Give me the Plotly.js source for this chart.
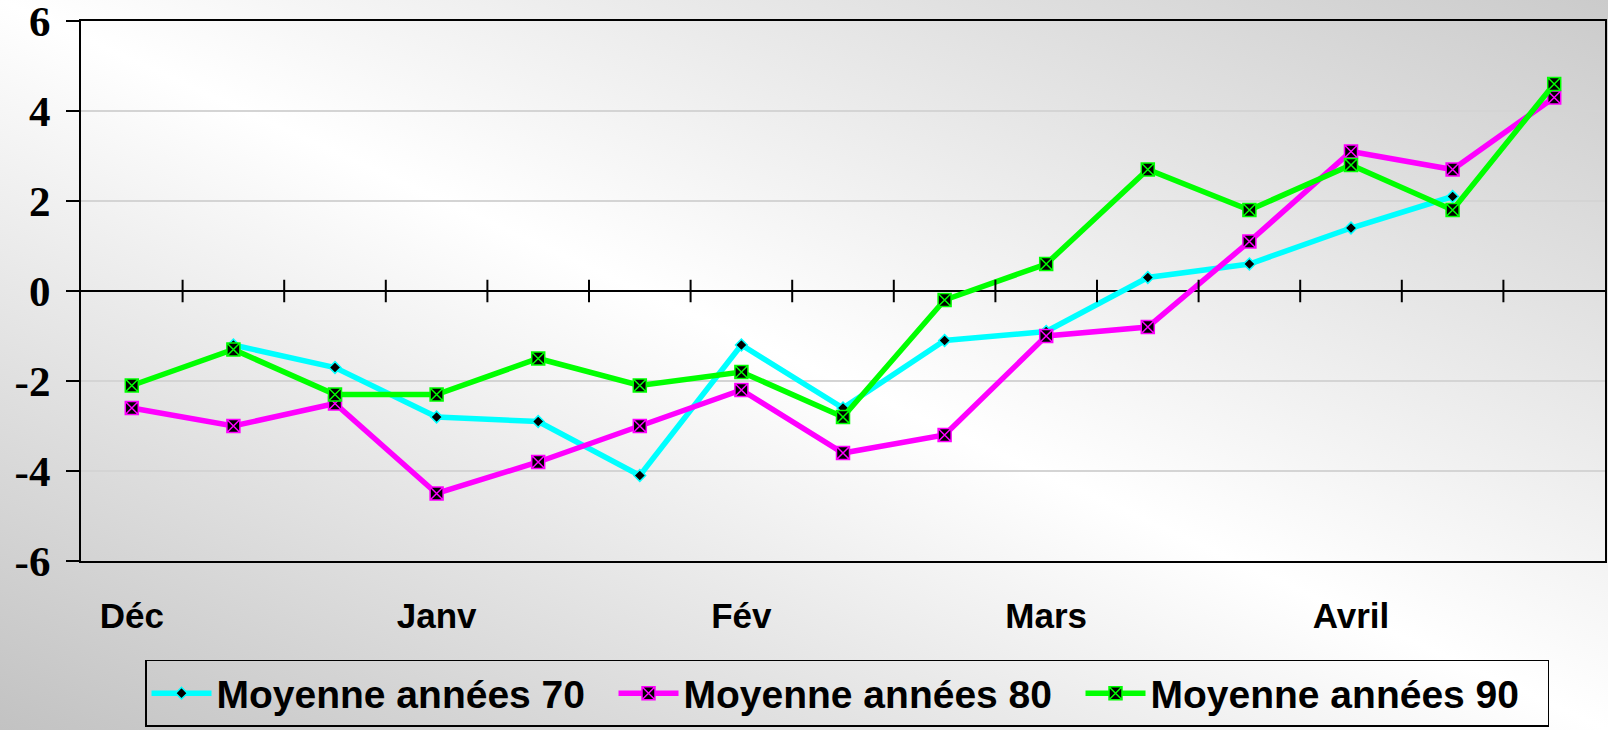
<!DOCTYPE html>
<html>
<head>
<meta charset="utf-8">
<script src="https://cdn.plot.ly/plotly-3.0.1.min.js"></script>
<style>
  html, body { margin: 0; padding: 0; }
  #chart {
    width: 1608px; height: 730px;
    background: linear-gradient(to top right, #c2c2c2 0%, #ffffff 50%, #cbcbcb 100%);
  }
</style>
</head>
<body>
<div id="chart"></div>
<script>
// Periods (three décades per month, Dec to Apr)
const periods = ["Déc 1", "Déc 2", "Déc 3", "Janv 1", "Janv 2", "Janv 3",
                 "Fév 1", "Fév 2", "Fév 3", "Mars 1", "Mars 2", "Mars 3",
                 "Avril 1", "Avril 2", "Avril 3"];
const monthTickVals = ["Déc 1", "Janv 1", "Fév 1", "Mars 1", "Avril 1"];
const monthTickText = ["Déc", "Janv", "Fév", "Mars", "Avril"];

const seriesNames = ["Moyenne années 70", "Moyenne années 80", "Moyenne années 90"];
const values70 = [null, -1.2, -1.7, -2.8, -2.9, -4.1, -1.2, -2.6, -1.1, -0.9, 0.3, 0.6, 1.4, 2.1, null];
const values80 = [-2.6, -3.0, -2.5, -4.5, -3.8, -3.0, -2.2, -3.6, -3.2, -1.0, -0.8, 1.1, 3.1, 2.7, 4.3];
const values90 = [-2.1, -1.3, -2.3, -2.3, -1.5, -2.1, -1.8, -2.8, -0.2, 0.6, 2.7, 1.8, 2.8, 1.8, 4.6];

const yTickVals = [-6, -4, -2, 0, 2, 4, 6];
const yTickText = ["-6", "-4", "-2", "0", "2", "4", "6"];

const traces = [
  {
    x: periods, y: values70, name: seriesNames[0], type: "scatter", mode: "lines+markers",
    line: { color: "#00FFFF", width: 5.5 },
    marker: { symbol: "diamond", size: 9, color: "#000000", line: { color: "#00FFFF", width: 1.5 } }
  },
  {
    x: periods, y: values80, name: seriesNames[1], type: "scatter", mode: "lines+markers",
    line: { color: "#FF00FF", width: 5.5 },
    marker: { symbol: "square-x", size: 13, color: "#000000", line: { color: "#FF00FF", width: 1.5 } }
  },
  {
    x: periods, y: values90, name: seriesNames[2], type: "scatter", mode: "lines+markers",
    line: { color: "#00FF00", width: 5.5 },
    marker: { symbol: "square-x", size: 13, color: "#000000", line: { color: "#00FF00", width: 1.5 } }
  }
];

// small tick marks crossing the zero line at category boundaries
const shapes = [];
for (let i = 1; i < periods.length; i++) {
  shapes.push({
    type: "line", xref: "x", yref: "y", x0: i - 0.5, x1: i - 0.5, y0: -0.25, y1: 0.25,
    line: { color: "#000000", width: 2 }
  });
}

const layout = {
  width: 1608, height: 730,
  margin: { l: 81, r: 3, t: 21, b: 169 },
  paper_bgcolor: "rgba(0,0,0,0)",
  plot_bgcolor: "rgba(0,0,0,0)",
  showlegend: true,
  xaxis: {
    type: "category",
    range: [-0.5, 14.5],
    tickvals: monthTickVals, ticktext: monthTickText,
    ticks: "", showgrid: false, zeroline: false,
    showline: true, linecolor: "#000000", linewidth: 2, mirror: true,
    tickfont: { family: "Liberation Sans, Arial, sans-serif", size: 35, color: "#000000", weight: "bold" },
    ticklabelstandoff: 23
  },
  yaxis: {
    range: [-6, 6], tickvals: yTickVals, ticktext: yTickText,
    ticks: "outside", ticklen: 13, tickwidth: 2, tickcolor: "#000000",
    showgrid: true, gridcolor: "#d4d4d4", gridwidth: 1.5,
    zeroline: true, zerolinecolor: "#000000", zerolinewidth: 2,
    showline: true, linecolor: "#000000", linewidth: 2, mirror: true,
    tickfont: { family: "Liberation Serif, Times New Roman, serif", size: 43, color: "#000000", weight: "bold" },
    ticklabelstandoff: 7,
    ticklabeloverflow: "allow"
  },
  legend: {
    orientation: "h", x: 0.042, xanchor: "left", y: -0.183, yanchor: "top",
    bgcolor: "rgba(0,0,0,0)", bordercolor: "#000000", borderwidth: 1.5,
    font: { family: "Liberation Sans, Arial, sans-serif", size: 39, color: "#000000", weight: "bold" },
    itemwidth: 60, entrywidth: 392, entrywidthmode: "pixels"
  },
  shapes: shapes
};

Plotly.newPlot("chart", traces, layout, { displayModeBar: false, staticPlot: true });
</script>
</body>
</html>
